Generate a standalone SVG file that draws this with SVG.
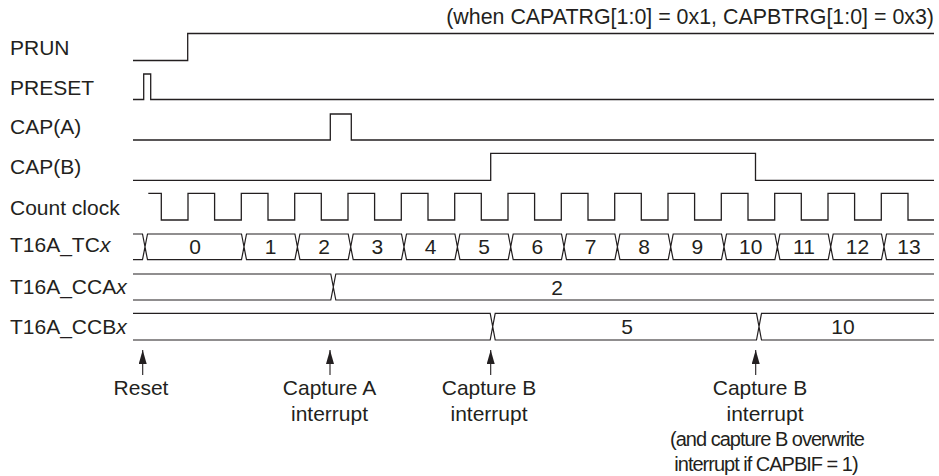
<svg xmlns="http://www.w3.org/2000/svg" width="939" height="476" viewBox="0 0 939 476">
<style>
text{font-family:"Liberation Sans",Arial,sans-serif;font-size:21px;fill:#231f20}
.s{fill:none;stroke:#231f20;stroke-width:1.3;stroke-linejoin:miter}
.b{fill:none;stroke:#231f20;stroke-width:1.2}
.m{text-anchor:middle}
.t{letter-spacing:-1px;font-size:20px}
.a{stroke:#231f20;stroke-width:1.1;fill:none}
</style>
<defs>
<marker id="ah" viewBox="0 0 14 8" refX="14" refY="4" markerWidth="14" markerHeight="8" markerUnits="userSpaceOnUse" orient="auto">
<path d="M0,0 L14,4 L0,8 Z" fill="#231f20"/>
</marker>
</defs>
<rect width="939" height="476" fill="#fff"/>
<text x="934" y="24" style="text-anchor:end;font-size:21.4px">(when CAPATRG[1:0] = 0x1, CAPBTRG[1:0] = 0x3)</text>

<g id="prun"><text x="10" y="55">PRUN</text><path class="s" d="M133,60.5 H187.7 V33.5 H934"/></g>
<g id="preset"><text x="10" y="94.5">PRESET</text><path class="s" d="M133,99.5 H143.7 V74 H150.7 V99.5 H934"/></g>
<g id="capa"><text x="10" y="134">CAP(A)</text><path class="s" d="M133,140 H330.3 V114 H351.3 V140 H934"/></g>
<g id="capb"><text x="10" y="174">CAP(B)</text><path class="s" d="M133,180.3 H490.7 V153.3 H755.5 V180.3 H934"/></g>
<g id="clock"><text x="10" y="214.5">Count clock</text><path class="s" d="M148.3,193.3 H161.3 V220 H188 V193.3 H214.6 V220 H241.3 V193.3 H268 V220 H294.7 V193.3 H321.3 V220 H348 V193.3 H374.6 V220 H401.3 V193.3 H428 V220 H454.7 V193.3 H481.3 V220 H508 V193.3 H534.6 V220 H561.3 V193.3 H588 V220 H614.7 V193.3 H641.3 V220 H668 V193.3 H694.6 V220 H721.3 V193.3 H748 V220 H774.7 V193.3 H801.3 V220 H828 V193.3 H854.6 V220 H881.3 V193.3 H908 V220 H934"/></g>

<g id="tc"><text x="10" y="252">T16A_TC<tspan font-style="italic">x</tspan></text>
<path class="b" d="M133,234 H142.5 L145,246.9 L142.5,259.7 H133
M145,246.9 L147.5,234 H241.5 L244,246.9 L241.5,259.7 H147.5 Z
M244,246.9 L246.5,234 H294.9 L297.4,246.9 L294.9,259.7 H246.5 Z
M297.4,246.9 L299.9,234 H348.2 L350.7,246.9 L348.2,259.7 H299.9 Z
M350.7,246.9 L353.2,234 H401.5 L404,246.9 L401.5,259.7 H353.2 Z
M404,246.9 L406.5,234 H454.9 L457.4,246.9 L454.9,259.7 H406.5 Z
M457.4,246.9 L459.9,234 H508.2 L510.7,246.9 L508.2,259.7 H459.9 Z
M510.7,246.9 L513.2,234 H561.5 L564,246.9 L561.5,259.7 H513.2 Z
M564,246.9 L566.5,234 H614.9 L617.4,246.9 L614.9,259.7 H566.5 Z
M617.4,246.9 L619.9,234 H668.2 L670.7,246.9 L668.2,259.7 H619.9 Z
M670.7,246.9 L673.2,234 H721.5 L724,246.9 L721.5,259.7 H673.2 Z
M724,246.9 L726.5,234 H774.9 L777.4,246.9 L774.9,259.7 H726.5 Z
M777.4,246.9 L779.9,234 H828.2 L830.7,246.9 L828.2,259.7 H779.9 Z
M830.7,246.9 L833.2,234 H881.5 L884,246.9 L881.5,259.7 H833.2 Z
M934,234 H886.5 L884,246.9 L886.5,259.7 H934"/>
<text class="m" x="195" y="254">0</text><text class="m" x="270.7" y="254">1</text><text class="m" x="324" y="254">2</text><text class="m" x="377.4" y="254">3</text><text class="m" x="430.7" y="254">4</text><text class="m" x="484" y="254">5</text><text class="m" x="537.4" y="254">6</text><text class="m" x="590.7" y="254">7</text><text class="m" x="644" y="254">8</text><text class="m" x="697.4" y="254">9</text><text class="m" x="750.7" y="254">10</text><text class="m" x="804" y="254">11</text><text class="m" x="857.4" y="254">12</text><text class="m" x="909" y="254">13</text>
</g>

<g id="cca"><text x="10" y="294">T16A_CCA<tspan font-style="italic">x</tspan></text>
<path class="b" d="M133,274 H330.8 L333.3,287 L330.8,300 H133 M934,274 H335.8 L333.3,287 L335.8,300 H934"/>
<text class="m" x="557" y="294.5">2</text></g>

<g id="ccb"><text x="10" y="334">T16A_CCB<tspan font-style="italic">x</tspan></text>
<path class="b" d="M133,313.3 H490.2 L492.7,326.7 L490.2,340 H133
M492.7,326.7 L495.2,313.3 H756.5 L759,326.7 L756.5,340 H495.2 Z
M934,313.3 H761.5 L759,326.7 L761.5,340 H934"/>
<text class="m" x="627" y="334">5</text><text class="m" x="843" y="334">10</text></g>

<g id="connectors">
<path class="a" d="M142.7,375 V350" marker-end="url(#ah)"/>
<path class="a" d="M330,375 V350" marker-end="url(#ah)"/>
<path class="a" d="M490.7,375 V350" marker-end="url(#ah)"/>
<path class="a" d="M755.7,375 V350" marker-end="url(#ah)"/>
</g>

<g id="ann-reset"><text class="m" x="141" y="395">Reset</text></g>
<g id="ann-capa"><text class="m" x="329.5" y="395">Capture A</text><text class="m" x="329.5" y="421">interrupt</text></g>
<g id="ann-capb1"><text class="m" x="489" y="395">Capture B</text><text class="m" x="489" y="421">interrupt</text></g>
<g id="ann-capb2"><text class="m" x="760" y="395">Capture B</text><text class="m" x="765" y="421">interrupt</text><text class="m t" x="767" y="446">(and capture B overwrite</text><text class="m t" x="766" y="471">interrupt if CAPBIF = 1)</text></g>
</svg>
